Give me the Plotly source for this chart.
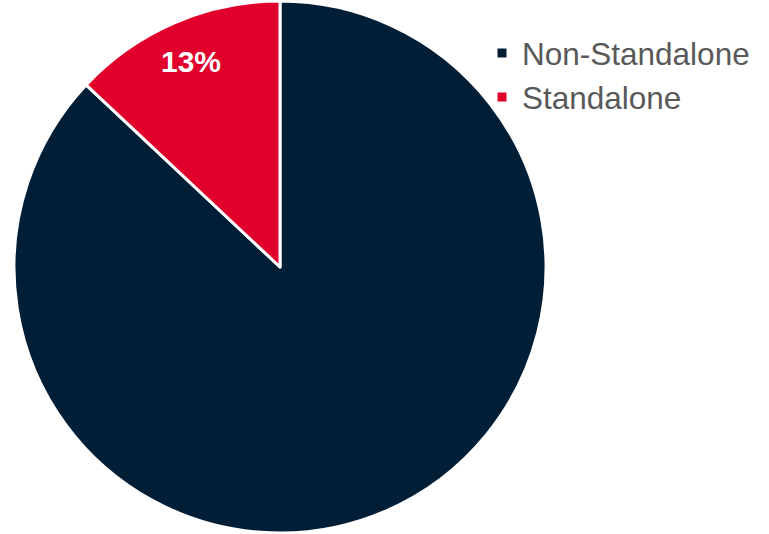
import math
import plotly.graph_objects as go

labels = ["Non-Standalone", "Standalone"]
values = [87, 13]
colors = ["#001e36", "#e0002b"]

W, H = 769, 534
DOM_X = [14 / W, 546 / W]
DOM_Y = [0.0, 1.0]

fig = go.Figure(go.Pie(
    labels=labels,
    values=values,
    sort=False,
    direction="clockwise",
    rotation=0,
    marker=dict(colors=colors, line=dict(color="white", width=3)),
    textinfo="none",
    domain=dict(x=DOM_X, y=DOM_Y),
    hoverinfo="label+percent",
))

# percentage label for the Standalone slice, placed along the slice's mid-angle
total = sum(values)
start = sum(values[:1]) / total
mid = (start + values[1] / total / 2) * 2 * math.pi  # clockwise from 12 o'clock
cx_px = (DOM_X[0] + DOM_X[1]) / 2 * W
cy_px = (DOM_Y[0] + DOM_Y[1]) / 2 * H
R = 264
r_lab = 0.85 * R
lx = cx_px + r_lab * math.sin(mid)
ly = cy_px - r_lab * math.cos(mid)
fig.add_annotation(
    x=lx / W, y=1 - ly / H, xref="paper", yref="paper",
    xanchor="center", yanchor="middle",
    text=f"{round(values[1] / total * 100)}%", showarrow=False,
    font=dict(family="Liberation Sans, Arial, sans-serif", size=30, color="white", weight="bold"),
)

fig.update_layout(
    width=W, height=H,
    margin=dict(l=0, r=0, t=0, b=0),
    paper_bgcolor="white",
    plot_bgcolor="white",
    showlegend=True,
    legend=dict(
        x=482 / W, y=1 - 26 / H, xanchor="left", yanchor="top",
        font=dict(family="Liberation Sans, Arial, sans-serif", size=31.5, color="#595959"),
        itemwidth=30,
        bgcolor="rgba(0,0,0,0)",
    ),
)
fig.write_html("out.html", config={"displayModeBar": False},
               post_script="document.body.style.margin='0';")
